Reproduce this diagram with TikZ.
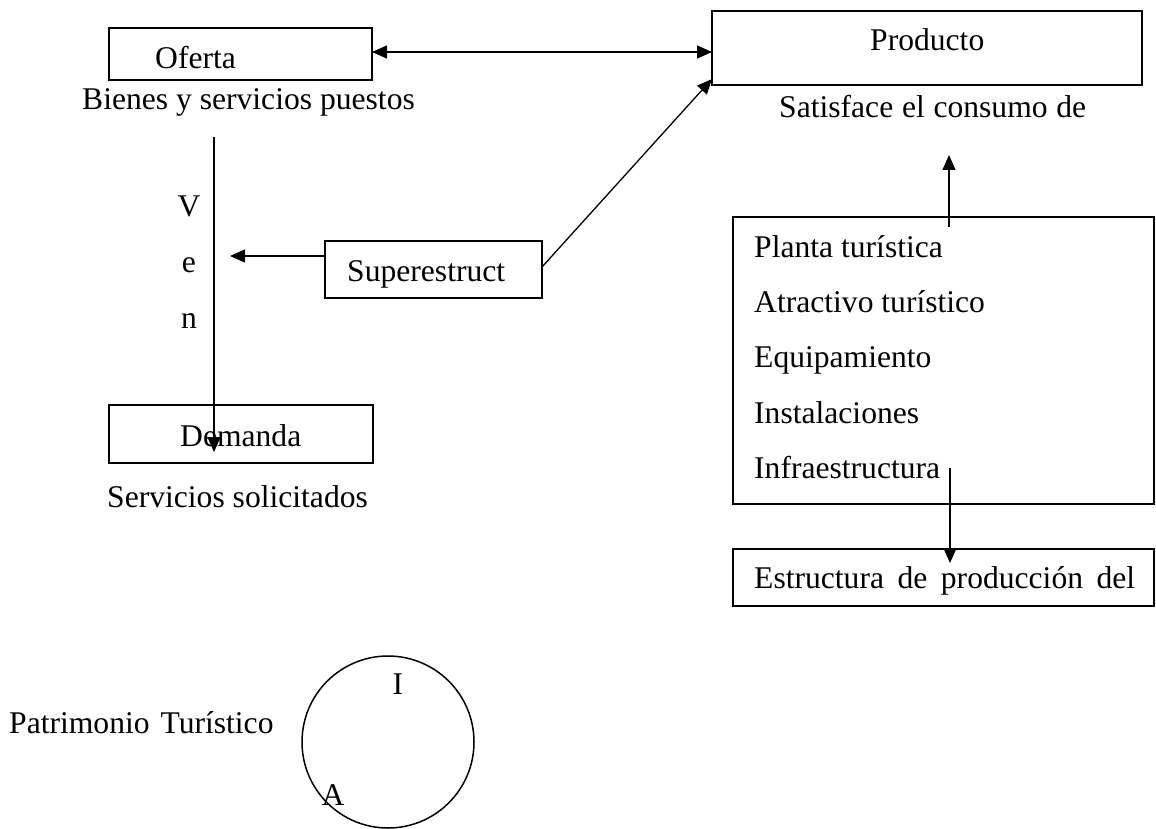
\documentclass[tikz,border=0pt]{standalone}
\usepackage{fontspec}
\setmainfont{Liberation Serif}
\usetikzlibrary{arrows.meta}
\begin{document}
\begin{tikzpicture}[x=1pt,y=-1pt,
  boxnode/.style={draw,line width=1.5pt,rectangle,inner sep=0pt,outer sep=0pt},
  txt/.style={inner sep=0pt,anchor=base west,font=\fontsize{31.6}{37}\selectfont},
  ctxt/.style={inner sep=0pt,anchor=base,font=\fontsize{31.6}{37}\selectfont},
  arr/.style={line width=1.3pt,-{Triangle[length=15pt,width=13pt]}},
  darr/.style={line width=1.3pt,{Triangle[length=15pt,width=13pt]}-{Triangle[length=15pt,width=13pt]}},
  plain/.style={line width=1.3pt}]
\useasboundingbox (0,0) rectangle (1156,829);
% boxes
\node[boxnode,minimum width=263pt,minimum height=52pt] (oferta) at (240.5,54) {};
\node[boxnode,minimum width=430pt,minimum height=74pt] (producto) at (927,48) {};
\node[boxnode,minimum width=217pt,minimum height=57pt] (super) at (433.5,269.5) {};
\node[boxnode,minimum width=421pt,minimum height=287pt] (big) at (943.5,360.5) {};
\node[boxnode,minimum width=421pt,minimum height=57pt] (estr) at (943.5,577.5) {};
\node[boxnode,minimum width=264pt,minimum height=58pt] (demanda) at (241,434) {};
\node[draw,circle,line width=1.5pt,minimum size=172pt,inner sep=0pt] (circ) at (388,742) {};
% texts
\node[txt] (tOferta) at (155,69) {Oferta};
\node[txt] (tBienes) at (82,110) {Bienes y servicios puestos};
\node[txt] (tProducto) at (870,51) {Producto};
\node[txt] (tSatisface) at (779,118) {\hbox to 307pt{Satisface\hfill el\hfill consumo\hfill de}};
\node[txt] (tSuper) at (347,281) {Superestruct};
\node[txt] (tPlanta) at (754,257) {Planta turística};
\node[txt] (tAtractivo) at (754,312) {Atractivo turístico};
\node[txt] (tEquip) at (754,367) {Equipamiento};
\node[txt] (tInst) at (754,423) {Instalaciones};
\node[txt] (tInfra) at (754,478) {Infraestructura};
\node[txt] (tEstr) at (754,588) {\hbox to 381pt{Estructura\hfill de\hfill producción\hfill del}};
\node[txt] (tDemanda) at (180,446) {Demanda};
\node[txt] (tServ) at (107,507) {Servicios solicitados};
\node[txt] (tPatr) at (9,733) {Patrimonio\hspace{3pt} Turístico};
\node[ctxt] (tV) at (189,216) {V};
\node[ctxt] (tE) at (189,272) {e};
\node[ctxt] (tN) at (189,328) {n};
\node[ctxt] (tI) at (398,694) {I};
\node[ctxt] (tA) at (333,805) {A};
% coordinates
\coordinate (venTip) at (230,256);
\coordinate (vTop) at (214,137);
\coordinate (vBot) at (214,452);
\coordinate (upStart) at (949,227);
\coordinate (upTip) at (949,155);
\coordinate (dnStart) at (950,468);
\coordinate (dnTip) at (950,563);
% connectors
\draw[darr] (oferta.east |- 0,52) -- (producto.west |- 0,52);
\draw[arr] (super.east |- 0,267) -- ([yshift=6pt]producto.south west);
\draw[arr] (super.west |- 0,256) -- (venTip);
\draw[arr] (vTop) -- (vBot);
\draw[arr] (upStart) -- (upTip);
\draw[arr] (dnStart) -- (dnTip);
\end{tikzpicture}
\end{document}
